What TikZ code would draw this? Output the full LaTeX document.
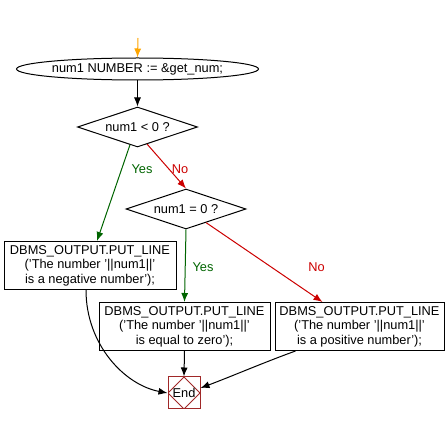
\documentclass[tikz,border=0pt]{standalone}
\usepackage{fontspec}
\setmainfont{Liberation Sans}
\usetikzlibrary{arrows.meta,shapes.geometric,calc}
\definecolor{yesc}{RGB}{0,100,0}
\definecolor{noc}{RGB}{204,0,0}
\definecolor{endc}{RGB}{160,40,40}
\definecolor{startc}{RGB}{255,165,0}
\tikzset{
  every path/.style={line width=1pt},
  arr/.style={-{Latex[length=9pt,width=7pt]}, line width=1pt},
  txt/.style={font=\fontsize{12.8}{14.5}\selectfont},
  decide/.style={diamond, draw, line width=1pt, aspect=3, inner sep=0pt, minimum width=120pt, minimum height=40pt, txt},
  outbox/.style={rectangle, draw, line width=1pt, minimum width=172pt, minimum height=48pt, align=center, inner sep=1pt, txt},
  lbl/.style={txt, inner sep=0pt}
}
\begin{document}
\begin{tikzpicture}[x=1pt,y=-1pt]
\useasboundingbox (0,0) rectangle (448,425);
\coordinate (top) at (138,38);
\node[ellipse, draw, line width=1pt, minimum width=191pt, minimum height=22pt, inner sep=0pt, txt] (start) at (137.5,69) {num1 NUMBER := \&get\_num;};
\node[decide] (d1) at (137.5,127) {num1 < 0 ?};
\node[decide] (d2) at (186,209) {num1 = 0 ?};
\node[outbox] (b1) at (90,265.5) {DBMS\_OUTPUT.PUT\_LINE\\('The number '||num1||'\\is a negative number');};
\node[outbox, minimum width=171pt] (b2) at (184.5,326.5) {DBMS\_OUTPUT.PUT\_LINE\\('The number '||num1||'\\is equal to zero');};
\node[outbox, minimum width=169pt] (b3) at (359.5,326.5) {DBMS\_OUTPUT.PUT\_LINE\\('The number '||num1||'\\is a positive number');};
\node[rectangle, draw=endc, line width=1pt, minimum size=32pt, inner sep=0pt, txt,
  path picture={\draw[endc, line width=1pt] (path picture bounding box.north) -- (path picture bounding box.east) -- (path picture bounding box.south) -- (path picture bounding box.west) -- cycle;}] (end) at (184,393) {End};

\node[lbl, text=yesc] (y1) at (142,169) {Yes};
\node[lbl, text=noc] (n1) at (180,169) {No};
\node[lbl, text=yesc] (y2) at (203,267) {Yes};
\node[lbl, text=noc] (n2) at (316.5,267) {No};

\draw[arr, startc] (top) -- (start.north);
\draw[arr] (start.south) -- (d1.north);
\draw[arr, yesc] ($(d1.south)!0.125!(d1.west)$) -- ($(b1.north)+(7,0)$);
\draw[arr, noc] ($(d1.south)!0.16!(d1.east)$) -- (d2.north);
\draw[arr, yesc] (d2.south) -- (b2.north);
\draw[arr, noc] ($(d2.south)!0.333!(d2.east)$) -- ($(b3.north)+(-37,0)$);
\draw[arr] (b2.south) -- (end.north);
\draw[arr] ($(b1.south)+(-4,0)$) .. controls (86,345) and (125,385) .. (end.west);
\draw[arr] ($(b3.south)+(-64,0)$) .. controls (265,362) and (230,377) .. ($(end.east)+(0,-5)$);
\end{tikzpicture}
\end{document}
